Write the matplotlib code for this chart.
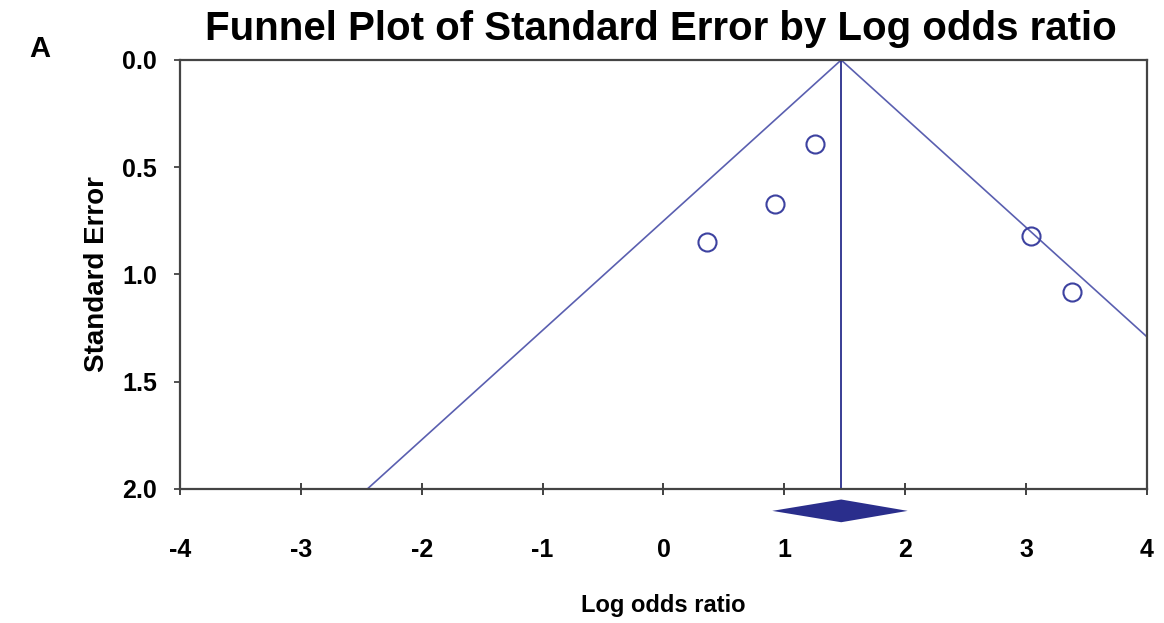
import numpy as np
import matplotlib.pyplot as plt

# studies: log odds ratio and standard error
log_or = [0.36, 0.92, 1.25, 3.04, 3.38]
std_err = [0.85, 0.67, 0.39, 0.82, 1.08]

# pooled estimate and 95% CI
pooled = 1.47
ci_low = 0.90
ci_high = 2.02

xticks = [-4, -3, -2, -1, 0, 1, 2, 3, 4]
yticks = [0.0, 0.5, 1.0, 1.5, 2.0]

plt.rcParams['font.family'] = ['Liberation Sans', 'DejaVu Sans']

fig = plt.figure(figsize=(11.64, 6.23), dpi=100)
ax = fig.add_axes([0.1546, 0.2151, 0.8308, 0.6886])

funnel_col = '#5a5fb0'
dark_col = '#2a2e8c'

# funnel lines
se_max = 2.0
ax.plot([pooled - 1.96 * se_max, pooled, pooled + 1.96 * se_max], [se_max, 0, se_max],
        color=funnel_col, lw=1.2)
ax.plot([pooled, pooled], [0, se_max], color=dark_col, lw=1.3)

# studies
ax.plot(log_or, std_err, 'o', mfc='none', mec='#3d42a0', mew=1.5, ms=13)

# pooled diamond below the axis
dy = 0.053
yc = 2.102
ax.fill([ci_low, pooled, ci_high, pooled], [yc, yc - dy, yc, yc + dy],
        color=dark_col, clip_on=False, lw=0)

ax.set_xlim(-4, 4)
ax.set_ylim(2.0, 0.0)
ax.set_xticks(xticks)
ax.set_xticklabels([str(t) for t in xticks], fontsize=18, fontweight='bold')
ax.set_yticks(yticks)
ax.set_yticklabels(['%.1f' % t for t in yticks], fontsize=18, fontweight='bold')
ax.tick_params(axis='x', direction='inout', length=8, width=1.3, pad=31, color='#333333')
ax.tick_params(axis='y', direction='out', length=4.5, width=1.2, pad=12, color='#333333')
for s in ax.spines.values():
    s.set_linewidth(1.6)
    s.set_color('#444444')

ax.set_xlabel('Log odds ratio', fontsize=17, fontweight='bold', labelpad=23)
ax.set_ylabel('Standard Error', fontsize=20, fontweight='bold', labelpad=9)
fig.text(0.568, 0.953, 'Funnel Plot of Standard Error by Log odds ratio',
         ha='center', va='center', fontsize=29, fontweight='bold')
fig.text(0.034, 0.922, 'A', ha='center', va='center', fontsize=21, fontweight='bold')

fig.savefig('out.png', dpi=100)
